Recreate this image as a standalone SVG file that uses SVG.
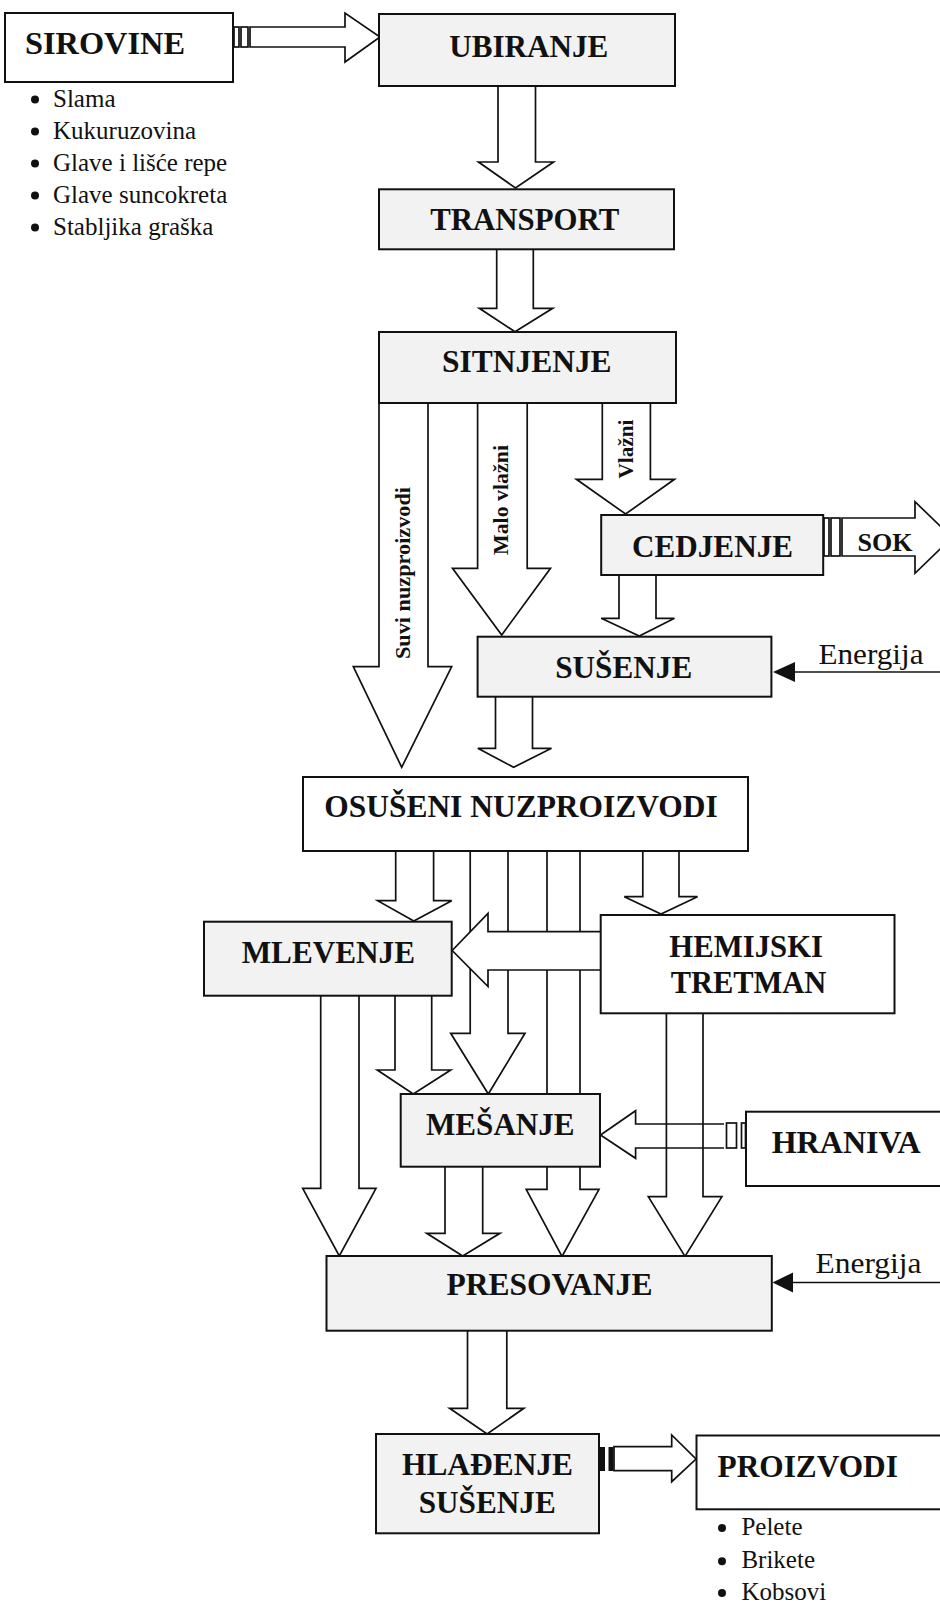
<svg xmlns="http://www.w3.org/2000/svg" width="940" height="1604" viewBox="0 0 940 1604">
<style>
.box{stroke:#111;stroke-width:2;fill:#fff}
.tex{fill:#f2f2f2}
.arr{fill:#fff;stroke:#111;stroke-width:1.7;stroke-linejoin:miter}
.open{fill:none;stroke:#111;stroke-width:1.7}
.ln{stroke:#111;stroke-width:1.7;fill:none}
.lbl{font-family:"Liberation Serif","Times New Roman",serif;font-weight:bold;font-size:32px;fill:#111;text-anchor:middle}
.lbls{font-family:"Liberation Serif","Times New Roman",serif;font-weight:bold;font-size:32px;fill:#111}
.rot{font-family:"Liberation Serif","Times New Roman",serif;font-weight:bold;font-size:22px;fill:#111;text-anchor:middle}
.sok{font-family:"Liberation Serif","Times New Roman",serif;font-weight:bold;font-size:25px;fill:#111;text-anchor:middle}
.bul{font-family:"Liberation Serif","Times New Roman",serif;font-size:25px;fill:#111}
.bul2{font-family:"Liberation Serif","Times New Roman",serif;font-size:25px;fill:#111}
.en{font-family:"Liberation Serif","Times New Roman",serif;font-size:30px;fill:#111}
.dot{fill:#111}
.blk{fill:#111}
</style>

<g id="connectors">
  <!-- SIROVINE -> UBIRANJE -->
  <rect class="arr" x="234" y="27" width="5" height="20"/>
  <rect class="arr" x="241" y="27" width="7" height="20"/>
  <path class="arr" d="M250 27 L345 27 L345 13 L380 37 L345 62 L345 47 L250 47 Z"/>
  <!-- UBIRANJE -> TRANSPORT -->
  <path class="arr" d="M498 86 L498 162 L478.5 162 L515.5 188 L553.5 162 L535.5 162 L535.5 86"/>
  <!-- TRANSPORT -> SITNJENJE -->
  <path class="arr" d="M496.7 249 L496.7 308.3 L479.3 308.3 L515 331.7 L552.7 308.3 L533.3 308.3 L533.3 249"/>
  <!-- Suvi nuzproizvodi -->
  <path class="arr" d="M379 403 L379 666.7 L353.3 666.7 L401.7 767.3 L451.7 666.7 L428 666.7 L428 403"/>
  <!-- Malo vlazni -->
  <path class="arr" d="M477.6 403 L477.6 568.3 L452.5 568.3 L501.7 635 L550.5 568.3 L527.2 568.3 L527.2 403"/>
  <!-- Vlazni -->
  <path class="arr" d="M602.3 403 L602.3 479.3 L576.4 479.3 L625.6 514 L674.5 479.3 L650.4 479.3 L650.4 403"/>
  <!-- CEDJENJE -> SOK -->
  <rect class="arr" x="824" y="518" width="5" height="38"/>
  <rect class="arr" x="831" y="518" width="9" height="38"/>
  <path class="arr" d="M842 518 L915 518 L915 501.7 L952 537.5 L915 573.3 L915 556 L842 556 Z"/>
  <!-- CEDJENJE -> SUSENJE -->
  <path class="arr" d="M619 575 L619 618.3 L601.2 618.3 L639.3 636 L674.5 618.3 L656 618.3 L656 575"/>
  <!-- Energija -> SUSENJE -->
  <line class="ln" x1="794" y1="672" x2="940" y2="672"/>
  <polygon class="blk" points="773,672 795,662 795,682"/>
  <!-- SUSENJE -> OSUSENI -->
  <path class="arr" d="M495.5 697 L495.5 748.3 L477.8 748.3 L513.6 767.3 L551.5 748.3 L532.5 748.3 L532.5 697"/>
  <!-- OSUSENI -> MLEVENJE -->
  <path class="arr" d="M395.7 851 L395.7 900.7 L377.6 900.7 L413.8 921 L451.7 900.7 L433.6 900.7 L433.6 851"/>
  <!-- OSUSENI -> PRESOVANJE (long) -->
  <path class="arr" d="M547 851 L547 1189.3 L526.2 1189.3 L562 1256.5 L599 1189.3 L580 1189.3 L580 851"/>
  <!-- OSUSENI -> MESANJE -->
  <path class="arr" d="M470.2 851 L470.2 1033.3 L450.7 1033.3 L488.3 1094 L525 1033.3 L508 1033.3 L508 851"/>
  <!-- OSUSENI -> HEMIJSKI -->
  <path class="arr" d="M642.8 851 L642.8 896.7 L624.3 896.7 L661 914 L697.5 896.7 L679 896.7 L679 851"/>
  <!-- HEMIJSKI -> MLEVENJE -->
  <path class="arr" d="M600.7 931.7 L488 931.7 L488 913.3 L452.2 950.5 L488 986.5 L488 970 L600.7 970"/>
  <!-- MLEVENJE -> PRESOVANJE -->
  <path class="arr" d="M320.7 995.7 L320.7 1188.3 L302.7 1188.3 L339.3 1256 L376 1188.3 L359 1188.3 L359 995.7"/>
  <!-- MLEVENJE -> MESANJE -->
  <path class="arr" d="M395 995.7 L395 1070 L377.3 1070 L413.3 1094 L450.7 1070 L431.7 1070 L431.7 995.7"/>
  <!-- MESANJE -> PRESOVANJE -->
  <path class="arr" d="M445 1166.7 L445 1233.3 L426.7 1233.3 L462.7 1256 L500 1233.3 L482.7 1233.3 L482.7 1166.7"/>
  <!-- HRANIVA -> MESANJE -->
  <path class="arr" d="M724 1124 L635.6 1124 L635.6 1110.7 L600.5 1135 L635.6 1158.3 L635.6 1148 L724 1148"/>
  <rect class="arr" x="726.5" y="1123" width="10" height="25"/>
  <rect class="arr" x="741.5" y="1123" width="4" height="25"/>
  <!-- HEMIJSKI -> PRESOVANJE -->
  <path class="open" d="M666.4 1013.3 L666.4 1196.7 L648.3 1196.7 L685 1256.5 L721.9 1196.7 L703 1196.7 L703 1013.3"/>
  <!-- Energija -> PRESOVANJE -->
  <line class="ln" x1="792" y1="1282.5" x2="940" y2="1282.5"/>
  <polygon class="blk" points="772.5,1282.5 793,1272.5 793,1292.5"/>
  <!-- PRESOVANJE -> HLADENJE -->
  <path class="arr" d="M467.5 1330.7 L467.5 1408.3 L449.6 1408.3 L487.1 1434 L523.9 1408.3 L506.8 1408.3 L506.8 1330.7"/>
  <!-- HLADENJE -> PROIZVODI -->
  <rect class="blk" x="600" y="1447" width="5" height="24"/>
  <rect class="blk" x="608.5" y="1447" width="5" height="24"/>
  <path class="arr" d="M614 1446.7 L671.7 1446.7 L671.7 1435 L696 1459 L671.7 1481.7 L671.7 1470.7 L614 1470.7 Z"/>
  <!-- labels on connectors -->
  <text class="rot" transform="translate(410,573) rotate(-90)" textLength="172" lengthAdjust="spacingAndGlyphs">Suvi  nuzproizvodi</text>
  <text class="rot" transform="translate(508,500) rotate(-90)" textLength="110" lengthAdjust="spacingAndGlyphs">Malo vlažni</text>
  <text class="rot" transform="translate(633,449) rotate(-90)" textLength="59" lengthAdjust="spacingAndGlyphs">Vlažni</text>
  <text class="sok" x="885" y="551" textLength="55" lengthAdjust="spacingAndGlyphs">SOK</text>
  <text class="en" x="818.5" y="663.5" textLength="105" lengthAdjust="spacingAndGlyphs">Energija</text>
  <text class="en" x="815.5" y="1273.3" textLength="106" lengthAdjust="spacingAndGlyphs">Energija</text>
</g>

<g id="sirovine">
  <rect class="box" x="5" y="13" width="228" height="69"/>
  <text class="lbls" x="25" y="54" textLength="160" lengthAdjust="spacingAndGlyphs">SIROVINE</text>
  <circle class="dot" cx="35" cy="99.5" r="4"/>
  <text class="bul" x="53" y="107">Slama</text>
  <circle class="dot" cx="35" cy="131.5" r="4"/>
  <text class="bul" x="53" y="139">Kukuruzovina</text>
  <circle class="dot" cx="35" cy="163.5" r="4"/>
  <text class="bul" x="53" y="171">Glave i lišće repe</text>
  <circle class="dot" cx="35" cy="195.5" r="4"/>
  <text class="bul" x="53" y="203">Glave suncokreta</text>
  <circle class="dot" cx="35" cy="227.5" r="4"/>
  <text class="bul" x="53" y="235">Stabljika graška</text>
</g>

<g id="ubiranje">
  <rect class="box tex" x="379" y="14" width="296" height="72"/>
  <text class="lbl" x="528.7" y="57" textLength="159" lengthAdjust="spacingAndGlyphs">UBIRANJE</text>
</g>

<g id="transport">
  <rect class="box tex" x="379" y="189.3" width="295" height="60"/>
  <text class="lbl" x="524.7" y="230" textLength="189" lengthAdjust="spacingAndGlyphs">TRANSPORT</text>
</g>

<g id="sitnjenje">
  <rect class="box tex" x="379" y="332" width="297" height="71"/>
  <text class="lbl" x="526.8" y="372" textLength="169.6" lengthAdjust="spacingAndGlyphs">SITNJENJE</text>
</g>

<g id="cedjenje">
  <rect class="box tex" x="601.2" y="515" width="222" height="60"/>
  <text class="lbl" x="712.5" y="557" textLength="161" lengthAdjust="spacingAndGlyphs">CEDJENJE</text>
</g>

<g id="susenje">
  <rect class="box tex" x="477.6" y="636.7" width="293.8" height="60"/>
  <text class="lbl" x="623.7" y="678.3" textLength="137" lengthAdjust="spacingAndGlyphs">SUŠENJE</text>
</g>

<g id="osuseni">
  <rect class="box" x="303" y="777" width="445" height="74"/>
  <text class="lbl" x="521" y="816.7" textLength="393.5" lengthAdjust="spacingAndGlyphs">OSUŠENI NUZPROIZVODI</text>
</g>

<g id="mlevenje">
  <rect class="box tex" x="204" y="921.7" width="247.7" height="74"/>
  <text class="lbl" x="328.3" y="963.3" textLength="173.3" lengthAdjust="spacingAndGlyphs">MLEVENJE</text>
</g>

<g id="hemijski">
  <rect class="box" x="600.7" y="915" width="293.8" height="98.3"/>
  <text class="lbl" x="746.2" y="956.7" textLength="153.7" lengthAdjust="spacingAndGlyphs">HEMIJSKI</text>
  <text class="lbl" x="748.5" y="993.3" textLength="155.7" lengthAdjust="spacingAndGlyphs">TRETMAN</text>
</g>

<g id="mesanje">
  <rect class="box tex" x="400.7" y="1094" width="199.3" height="72.7"/>
  <text class="lbl" x="500.3" y="1135" textLength="148.6" lengthAdjust="spacingAndGlyphs">MEŠANJE</text>
</g>

<g id="hraniva">
  <rect class="box" x="746" y="1111.7" width="199" height="74.3"/>
  <text class="lbls" x="771.7" y="1153.3" textLength="149" lengthAdjust="spacingAndGlyphs">HRANIVA</text>
</g>

<g id="presovanje">
  <rect class="box tex" x="326.5" y="1256" width="445.3" height="74.7"/>
  <text class="lbl" x="549.4" y="1295" textLength="206" lengthAdjust="spacingAndGlyphs">PRESOVANJE</text>
</g>

<g id="hladenje">
  <rect class="box tex" x="376" y="1434" width="223" height="99.3"/>
  <text class="lbl" x="487.5" y="1475" textLength="171" lengthAdjust="spacingAndGlyphs">HLAĐENJE</text>
  <text class="lbl" x="487.2" y="1512.7" textLength="137" lengthAdjust="spacingAndGlyphs">SUŠENJE</text>
</g>

<g id="proizvodi">
  <rect class="box" x="696.5" y="1435.5" width="248.5" height="73.8"/>
  <text class="lbls" x="717.5" y="1477.3" textLength="180.4" lengthAdjust="spacingAndGlyphs">PROIZVODI</text>
  <circle class="dot" cx="722" cy="1528" r="4"/>
  <text class="bul2" x="741.4" y="1535">Pelete</text>
  <circle class="dot" cx="722" cy="1561.3" r="4"/>
  <text class="bul2" x="741.4" y="1568.3">Brikete</text>
  <circle class="dot" cx="722" cy="1593" r="4"/>
  <text class="bul2" x="741.4" y="1600">Kobsovi</text>
</g>
</svg>
